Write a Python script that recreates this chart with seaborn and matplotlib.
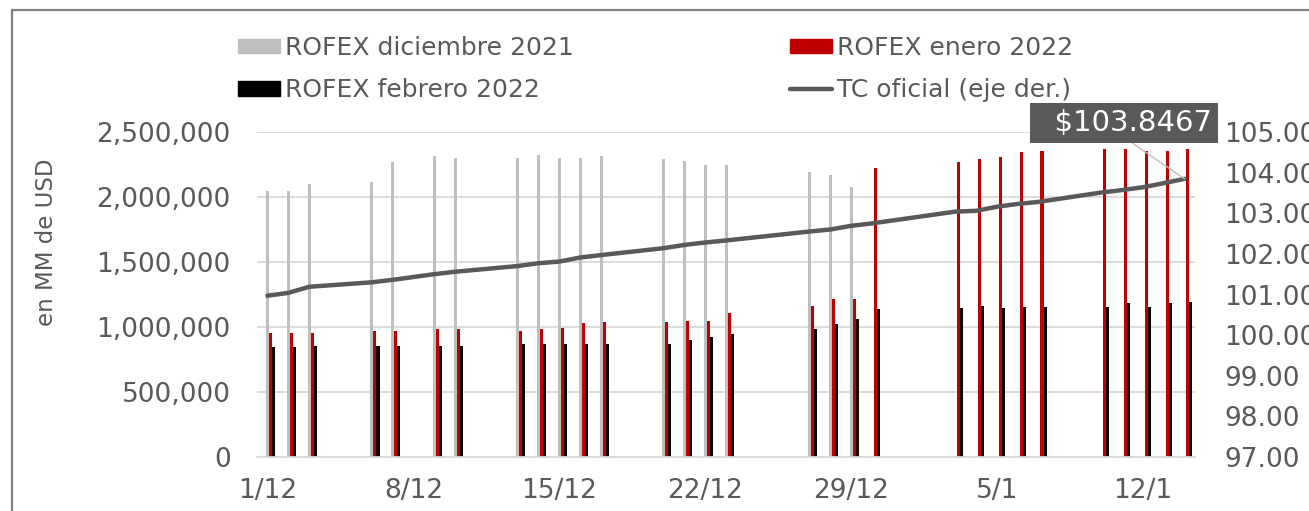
import numpy as np
import pandas as pd
import matplotlib
matplotlib.use('Agg')
import matplotlib.pyplot as plt
from matplotlib.patches import Patch, Rectangle
from matplotlib.lines import Line2D
import seaborn as sns

# datos (ruedas habiles dic-2021 / ene-2022)
fechas = ['2021-12-01', '2021-12-02', '2021-12-03', '2021-12-06', '2021-12-07',
          '2021-12-09', '2021-12-10', '2021-12-13', '2021-12-14', '2021-12-15',
          '2021-12-16', '2021-12-17', '2021-12-20', '2021-12-21', '2021-12-22',
          '2021-12-23', '2021-12-27', '2021-12-28', '2021-12-29', '2021-12-30',
          '2022-01-03', '2022-01-04', '2022-01-05', '2022-01-06', '2022-01-07',
          '2022-01-10', '2022-01-11', '2022-01-12', '2022-01-13', '2022-01-14']

rofex_dic_2021 = [2046000, 2046000, 2100000, 2113000, 2267000, 2313000, 2302000,
                  2302000, 2325000, 2302000, 2302000, 2315000, 2292000, 2280000,
                  2246000, 2246000, 2190000, 2170000, 2075000,
                  np.nan, np.nan, np.nan, np.nan, np.nan, np.nan,
                  np.nan, np.nan, np.nan, np.nan, np.nan]

rofex_ene_2022 = [951000, 951000, 951000, 972000, 972000, 982000, 982000,
                  972000, 982000, 995000, 1028000, 1038000, 1038000, 1049000,
                  1049000, 1105000, 1162000, 1215000, 1215000, 2225000,
                  2267000, 2290000, 2310000, 2344000, 2357000,
                  2367000, 2367000, 2357000, 2357000, 2367000]

rofex_feb_2022 = [844000, 844000, 856000, 856000, 856000, 856000, 856000,
                  867000, 867000, 867000, 867000, 867000, 867000, 900000,
                  923000, 946000, 982000, 1026000, 1059000, 1138000,
                  1149000, 1162000, 1149000, 1156000, 1156000,
                  1156000, 1182000, 1156000, 1182000, 1195000]

tc_oficial = [100.97, 101.04, 101.19, 101.30, 101.36, 101.50, 101.56,
              101.70, 101.77, 101.81, 101.91, 101.97, 102.14, 102.22,
              102.28, 102.33, 102.55, 102.60, 102.69, 102.75,
              103.04, 103.06, 103.16, 103.23, 103.28,
              103.51, 103.57, 103.64, 103.74, 103.8467]

series = ['ROFEX diciembre 2021', 'ROFEX enero 2022', 'ROFEX febrero 2022']
colores = ['#bfbfbf', '#c00000', '#000000']
etiquetas_x = ['1/12', '8/12', '15/12', '22/12', '29/12', '5/1', '12/1']

GRIS_TXT = '#595959'
DESPLAZ_BARRAS = 0.16  # el cluster de Excel queda corrido a la derecha

sns.set_theme(style='white')
plt.rcParams['font.family'] = ['DejaVu Sans']

fechas_dt = pd.to_datetime(fechas)
dias = np.asarray((fechas_dt - fechas_dt[0]).days, dtype=float)

largo = pd.concat([
    pd.DataFrame({'x': dias + DESPLAZ_BARRAS, 'valor': vals, 'serie': nombre})
    for nombre, vals in zip(series, [rofex_dic_2021, rofex_ene_2022, rofex_feb_2022])
]).dropna()

fig = plt.figure(figsize=(13.09, 5.11), dpi=100)
ax = fig.add_axes([257 / 1309, 1 - 457 / 511, 938 / 1309, 325 / 511])

sns.barplot(data=largo, x='x', y='valor', hue='serie', hue_order=series,
            palette=colores, native_scale=True, width=0.435, errorbar=None,
            saturation=1, linewidth=0, legend=False, ax=ax)

ax.set_xlim(-0.5, 44.5)
ax.set_ylim(0, 2500000)
ax.set_yticks(np.arange(0, 2500001, 500000))
ax.yaxis.set_major_formatter(plt.FuncFormatter(lambda v, p: format(int(v), ',')))
ax.set_xticks(np.arange(0, 43, 7))
ax.set_xticklabels(etiquetas_x)
ax.set_xticks(np.arange(-0.5, 44, 7), minor=True)
ax.tick_params(axis='x', which='major', length=0, pad=15, labelsize=19, labelcolor=GRIS_TXT)
ax.tick_params(axis='x', which='minor', length=7, width=1.3, color='#d9d9d9', direction='out')
ax.tick_params(axis='y', length=0, pad=19, labelsize=19, labelcolor=GRIS_TXT)
ax.set_xlabel('')
ax.set_ylabel('')
ax.yaxis.grid(True, color='#d9d9d9', lw=1.3)
ax.set_axisbelow(True)
for s in ['left', 'right', 'top']:
    ax.spines[s].set_visible(False)
ax.spines['bottom'].set_color('#d9d9d9')
ax.spines['bottom'].set_linewidth(1.3)

# eje derecho: tipo de cambio oficial
ax2 = ax.twinx()
sns.lineplot(x=dias, y=tc_oficial, ax=ax2, color=GRIS_TXT, lw=3.2,
             solid_capstyle='round')
ax2.set_ylim(97, 105)
ax2.set_yticks(np.arange(97, 105.5, 1))
ax2.yaxis.set_major_formatter(plt.FuncFormatter(lambda v, p: f'{v:.2f}'))
ax2.tick_params(axis='y', length=0, pad=21, labelsize=19, labelcolor=GRIS_TXT)
ax2.set_ylabel('')
for s in ax2.spines.values():
    s.set_visible(False)

ax2.annotate(r'  \$103.8467', xy=(dias[-1], tc_oficial[-1]), xytext=(-43.8, 40.0),
             textcoords='offset points', ha='center', va='center',
             color='white', fontsize=21,
             bbox=dict(boxstyle='square,pad=0.2', fc=GRIS_TXT, ec='none'),
             arrowprops=dict(arrowstyle='-', color='#bfbfbf', lw=1,
                             relpos=(0.5, 0), shrinkA=0, shrinkB=0))

fig.text(47 / 1309, 1 - 242 / 511, 'en MM de USD', rotation=90, ha='center',
         va='center', fontsize=16.5, color=GRIS_TXT)

# leyenda en dos columnas
kw_ley = dict(loc='upper left', frameon=False, fontsize=18, handlelength=1.68,
              handleheight=0.52, handletextpad=0.2, labelspacing=0.73,
              borderpad=0, borderaxespad=0, labelcolor=GRIS_TXT)
fig.legend(handles=[Patch(color=colores[0]), Patch(color=colores[2])],
           labels=[series[0], series[2]],
           bbox_to_anchor=(238 / 1309, 1 - 36 / 511), **kw_ley)
fig.legend(handles=[Patch(color=colores[1]), Line2D([], [], color=GRIS_TXT, lw=3.2)],
           labels=[series[1], 'TC oficial (eje der.)'],
           bbox_to_anchor=(790 / 1309, 1 - 36 / 511), **kw_ley)

# marco exterior
fig.add_artist(Rectangle((12 / 1309, -0.05), 1.2, 1 - 10 / 511 + 0.05,
                         transform=fig.transFigure, fill=False,
                         ec='#7f7f7f', lw=1.6))

plt.savefig('out.png', dpi=100)
